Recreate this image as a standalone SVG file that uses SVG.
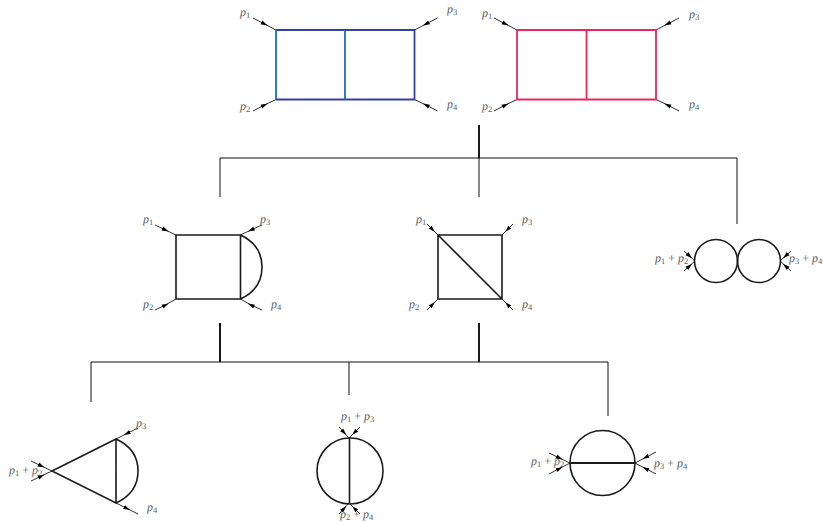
<svg xmlns="http://www.w3.org/2000/svg" width="823" height="523" viewBox="0 0 823 523">
<style>
text{font-family:"Liberation Serif","Times New Roman",serif;font-size:12px;font-style:italic;fill:#5a5a5a;text-rendering:geometricPrecision}
.sub{font-size:8.500px;font-style:normal}
.plus{font-style:normal}
.ln,.ext{fill:none}
.ln{stroke:#1a1a1a;stroke-width:1.600}
.ext{stroke:#1a1a1a;stroke-width:.9;marker-mid:url(#ah)}
.tree{fill:none;stroke:#111;stroke-width:1}
.stub{fill:none;stroke:#000;stroke-width:1.800}
.blue{fill:none;stroke:#35409f;stroke-width:1.800}
.teal{fill:none;stroke:#1b70b2;stroke-width:1.800}
.red{fill:none;stroke:#e8295c;stroke-width:1.800}
</style>
<defs>
<marker id="ah" markerUnits="userSpaceOnUse" markerWidth="8" markerHeight="5" refX="3.500" refY="2.500" orient="auto"><path d="M0,0.400L7,2.500L0,4.600Z" fill="#000"/></marker>
</defs>
<g id="connectors">
<path class="stub" d="M479,125V158M220,323V362M479,323V362"/>
<path class="tree" d="M220,197V158H737V224M479,158V197M91,402V362H608V416M349,362V395"/>
</g>
<g id="node-blue-double-box">
<path class="ext" d="M253,18L264.500,24L276,30"/>
<path class="ext" d="M253,111L264.500,105L276,99.500"/>
<path class="ext" d="M437.500,18L426,24L414.500,30"/>
<path class="ext" d="M437.500,111L426,105L414.500,99.500"/>
<path class="blue" d="M276,30H414.500V99.500H276"/>
<path class="teal" d="M276,30V99.500M345,30V99.500"/>
<text x="240" y="16">p<tspan class="sub" dy="2">1</tspan></text>
<text x="447" y="13">p<tspan class="sub" dy="2">3</tspan></text>
<text x="240" y="110">p<tspan class="sub" dy="2">2</tspan></text>
<text x="447" y="108">p<tspan class="sub" dy="2">4</tspan></text>
</g>
<g id="node-red-double-box">
<path class="ext" d="M494,18L505.500,24L517,30"/>
<path class="ext" d="M494,111L505.500,105L517,99.500"/>
<path class="ext" d="M679,18L667.500,24L656,30"/>
<path class="ext" d="M679,111L667.500,105L656,99.500"/>
<path class="red" d="M517,30H656V99.500H517ZM586.500,30V99.500"/>
<text x="482" y="17">p<tspan class="sub" dy="2">1</tspan></text>
<text x="689" y="18">p<tspan class="sub" dy="2">3</tspan></text>
<text x="482" y="110">p<tspan class="sub" dy="2">2</tspan></text>
<text x="689" y="108">p<tspan class="sub" dy="2">4</tspan></text>
</g>
<g id="node-box-arc">
<path class="ext" d="M155,225L165.500,230L176,235"/>
<path class="ext" d="M155,310L165.500,305L176,299"/>
<path class="ext" d="M262,225L251,230L240.500,235"/>
<path class="ext" d="M262,310L251,305L240.500,299"/>
<path class="ln" d="M176,235H240.500V299H176ZM240.500,235Q262,245 262,267T240.500,299"/>
<text x="143" y="223">p<tspan class="sub" dy="2">1</tspan></text>
<text x="260" y="223">p<tspan class="sub" dy="2">3</tspan></text>
<text x="143" y="308">p<tspan class="sub" dy="2">2</tspan></text>
<text x="271" y="308">p<tspan class="sub" dy="2">4</tspan></text>
</g>
<g id="node-box-diagonal">
<path class="ext" d="M427,224L432.500,229.500L438,235"/>
<path class="ext" d="M427,310L432.500,304.500L438,299"/>
<path class="ext" d="M513,224L507.500,229.500L502,235"/>
<path class="ext" d="M513,310L507.500,304.500L502,299"/>
<path class="ln" d="M438,235H502V299H438ZL502,299"/>
<text x="416" y="223">p<tspan class="sub" dy="2">1</tspan></text>
<text x="522" y="223">p<tspan class="sub" dy="2">3</tspan></text>
<text x="409" y="308">p<tspan class="sub" dy="2">2</tspan></text>
<text x="522" y="308">p<tspan class="sub" dy="2">4</tspan></text>
</g>
<g id="node-two-bubbles">
<path class="ext" d="M684,251L689.500,256L695,261"/>
<path class="ext" d="M684,271L689.500,266L695,261"/>
<path class="ext" d="M791,251L785.500,256L780,261"/>
<path class="ext" d="M791,271L785.500,266L780,261"/>
<circle class="ln" cx="716" cy="261" r="21.500"/>
<circle class="ln" cx="759" cy="261" r="21.500"/>
<text x="655" y="262">p<tspan class="sub" dy="2">1</tspan><tspan class="plus" dy="-2"> + </tspan>p<tspan class="sub" dy="2">2</tspan></text>
<text x="789" y="262">p<tspan class="sub" dy="2">3</tspan><tspan class="plus" dy="-2"> + </tspan>p<tspan class="sub" dy="2">4</tspan></text>
</g>
<g id="node-triangle-arc">
<path class="ext" d="M31,461L41.500,466L52,471"/>
<path class="ext" d="M31,481L41.500,476L52,471"/>
<path class="ext" d="M138,428L127,433.500L116,439"/>
<path class="ext" d="M116,503L127,508.500L138,514"/>
<path class="ln" d="M116,439L52,471L116,503ZM116,439Q138,449 138,471T116,503"/>
<text x="9" y="474">p<tspan class="sub" dy="2">1</tspan><tspan class="plus" dy="-2"> + </tspan>p<tspan class="sub" dy="2">2</tspan></text>
<text x="136" y="427">p<tspan class="sub" dy="2">3</tspan></text>
<text x="147" y="511">p<tspan class="sub" dy="2">4</tspan></text>
</g>
<g id="node-circle-vertical">
<path class="ext" d="M339,427L344,432.500L349,438"/>
<path class="ext" d="M360,427L354.500,432.500L349,438"/>
<path class="ext" d="M339,514L344,508.500L349,503"/>
<path class="ext" d="M360,514L354.500,508.500L349,503"/>
<circle class="ln" cx="350" cy="471" r="33"/>
<path class="ln" d="M349.500,438V503.500"/>
<text x="341" y="420">p<tspan class="sub" dy="2">1</tspan><tspan class="plus" dy="-2"> + </tspan>p<tspan class="sub" dy="2">3</tspan></text>
<text x="340" y="518">p<tspan class="sub" dy="1.500">2</tspan><tspan class="plus" dy="-1.500"> + </tspan>p<tspan class="sub" dy="1.500">4</tspan></text>
</g>
<g id="node-circle-horizontal">
<path class="ext" d="M549,453L559.500,458L570,463"/>
<path class="ext" d="M549,474L559.500,468.500L570,463"/>
<path class="ext" d="M656,452L645.500,457.500L635,463"/>
<path class="ext" d="M656,474L645.500,468.500L635,463"/>
<circle class="ln" cx="602.500" cy="463" r="32.500"/>
<path class="ln" d="M570,463H635" style="stroke-width:2"/>
<text x="531" y="465">p<tspan class="sub" dy="2">1</tspan><tspan class="plus" dy="-2"> + </tspan>p<tspan class="sub" dy="2">2</tspan></text>
<text x="654" y="467">p<tspan class="sub" dy="2">3</tspan><tspan class="plus" dy="-2"> + </tspan>p<tspan class="sub" dy="2">4</tspan></text>
</g>
</svg>
